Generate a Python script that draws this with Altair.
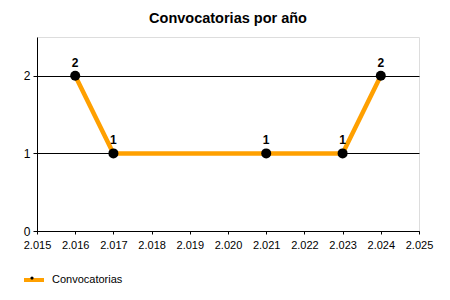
import altair as alt
import pandas as pd

years = [2016, 2017, 2021, 2023, 2024]
counts = [2, 1, 1, 1, 2]
series = ["Convocatorias"] * len(years)
x_ticks = list(range(2015, 2026))
y_ticks = [0, 1, 2]

df = pd.DataFrame({"year": years, "count": counts, "series": series})

FONT = "Liberation Sans"
label_expr = "replace(format(datum.value, ','), ',', '.')"
dot_path = "M-0.16,0 A0.16,0.16 0 1,0 0.16,0 A0.16,0.16 0 1,0 -0.16,0 Z"

x = alt.X("year:Q", scale=alt.Scale(domain=[2015, 2025], nice=False, zero=False),
          axis=alt.Axis(values=x_ticks, labelExpr=label_expr, title=None, grid=False,
                        domainColor="black", tickColor="black", tickSize=3,
                        labelColor="black", labelFontSize=11, labelFont=FONT,
                        labelPadding=5, labelFlush=False, labelOverlap=False))
y = alt.Y("count:Q", scale=alt.Scale(domain=[0, 2.5], nice=False),
          axis=alt.Axis(values=y_ticks, format="d", title=None, grid=True, gridColor="black",
                        gridOpacity=1, domainColor="black", tickColor="black", tickSize=4,
                        labelColor="black", labelFontSize=12, labelFont=FONT, labelPadding=3))

base = alt.Chart(df)

legend_common = dict(title=None, orient="none", legendX=-15, legendY=231,
                     symbolSize=400, labelFont=FONT, labelFontSize=11, labelColor="black",
                     labelOffset=6)

line = base.mark_line(strokeWidth=4.5).encode(
    x=x, y=y,
    color=alt.Color("series:N", scale=alt.Scale(range=["#FFA000"]),
                    legend=alt.Legend(symbolType="stroke", symbolStrokeWidth=4, **legend_common)),
)
points = base.mark_circle(size=100, opacity=1).encode(
    x=x, y=y,
    fill=alt.Fill("series:N", scale=alt.Scale(range=["black"]),
                  legend=alt.Legend(symbolType=dot_path, symbolStrokeWidth=0,
                                    labelExpr="''", **legend_common)),
)
labels = base.mark_text(dy=-13, fontWeight="bold", fontSize=12, font=FONT, color="black").encode(
    x=x, y=y, text="count:Q"
)

chart = alt.layer(line, points, labels).properties(
    width=382, height=194,
    title=alt.TitleParams("Convocatorias por año", font=FONT, fontSize=14.5, fontWeight="bold",
                          color="black", anchor="middle", offset=11),
    autosize=alt.AutoSizeParams(type="none"),
    padding={"left": 37, "top": 37, "right": 31, "bottom": 69},
).configure_view(stroke=None).configure(background="white")

chart.save("out.html", embed_options={"renderer": "svg", "actions": False})
